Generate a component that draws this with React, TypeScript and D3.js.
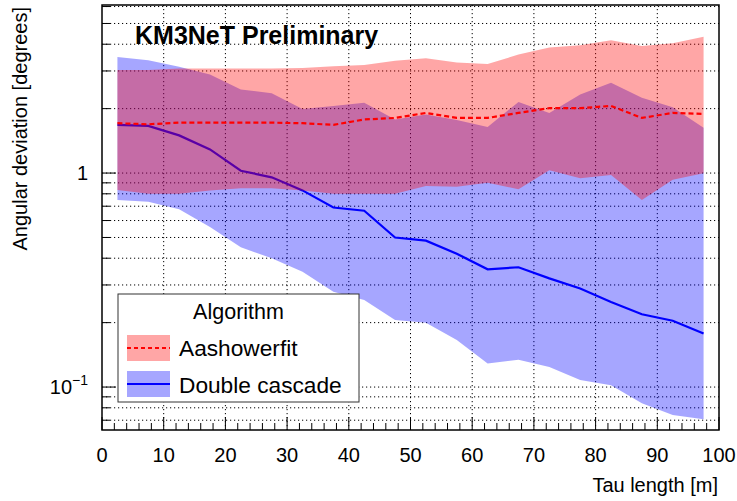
import React from "react";
import * as d3 from "d3";

const tauLength = [2.5, 7.5, 12.5, 17.5, 22.5, 27.5, 32.5, 37.5, 42.5, 47.5, 52.5, 57.5, 62.5, 67.5, 72.5, 77.5, 82.5, 87.5, 92.5, 97.5];

const aashMedian = [1.71, 1.69, 1.72, 1.72, 1.72, 1.72, 1.71, 1.68, 1.78, 1.81, 1.91, 1.81, 1.81, 1.91, 2.01, 2.01, 2.06, 1.81, 1.91, 1.89];
const aashUpper = [3.03, 3.03, 3.08, 3.08, 3.08, 3.08, 3.1, 3.16, 3.2, 3.35, 3.44, 3.29, 3.23, 3.58, 3.86, 3.96, 4.18, 3.92, 4.04, 4.34];
const aashLower = [0.833, 0.8, 0.8, 0.83, 0.85, 0.85, 0.83, 0.8, 0.8, 0.8, 0.87, 0.863, 0.9, 0.84, 1.03, 0.945, 0.98, 0.748, 0.93, 0.997];

const dcMedian = [1.68, 1.66, 1.5, 1.29, 1.025, 0.955, 0.83, 0.69, 0.667, 0.5, 0.483, 0.42, 0.355, 0.363, 0.322, 0.289, 0.25, 0.219, 0.204, 0.178];
const dcUpper = [3.49, 3.37, 3.14, 2.89, 2.46, 2.36, 1.99, 2.06, 2.13, 1.78, 1.88, 1.77, 1.64, 2.15, 1.91, 2.33, 2.64, 2.25, 2.03, 1.63];
const dcLower = [0.748, 0.735, 0.677, 0.56, 0.45, 0.4, 0.346, 0.279, 0.255, 0.206, 0.2, 0.166, 0.129, 0.134, 0.124, 0.108, 0.102, 0.084, 0.074, 0.0707];

const xTickLabels = ["0", "10", "20", "30", "40", "50", "60", "70", "80", "90", "100"];
const legendTitle = "Algorithm";
const seriesNames = ["Aashowerfit", "Double cascade"];

const W = 737, H = 501;
const L = 102, R = 719, T = 5, B = 430;
const FONT = "'Liberation Sans', Arial, Helvetica, sans-serif";

export default function App() {
  const x = d3.scaleLinear().domain([0, 100]).range([L, R]);
  const y = d3.scaleLog().domain([0.063, 6.1]).range([B, T]);

  const idx = tauLength.map((_, i) => i);
  const area = (lo: number[], hi: number[]) =>
    d3.area<number>().x((i) => x(tauLength[i])).y0((i) => y(lo[i])).y1((i) => y(hi[i]))(idx) || "";
  const line = (v: number[]) => d3.line<number>().x((i) => x(tauLength[i])).y((i) => y(v[i]))(idx) || "";

  const yTicks = y.ticks();
  const xMajor = d3.range(0, 101, 10);
  const xMinor = d3.range(0, 101, 2).filter((v) => v % 10 !== 0);
  const isMajorY = (v: number) => Math.abs(Math.log10(v) - Math.round(Math.log10(v))) < 1e-6;

  const grid = { stroke: "#000", strokeWidth: 1, strokeDasharray: "1.2,2.8" };

  return (
    <svg width={W} height={H} style={{ position: "absolute", left: 0, top: 0, background: "#fff" }} fontFamily={FONT}>
      <rect x={0} y={0} width={W} height={H} fill="#fff" />
      {/* grid */}
      {xMajor.filter((v) => v > 0 && v < 100).map((v) => (
        <line key={"gx" + v} x1={x(v)} x2={x(v)} y1={T} y2={B} {...grid} />
      ))}
      {yTicks.map((v) => (
        <line key={"gy" + v} x1={L} x2={R} y1={y(v)} y2={y(v)} {...grid} />
      ))}

      {/* bands */}
      <path d={area(dcLower, dcUpper)} fill="#0000ff" fillOpacity={0.35} />
      <path d={line(dcMedian)} fill="none" stroke="#0000ff" strokeWidth={2.2} />
      <path d={area(aashLower, aashUpper)} fill="#ff0000" fillOpacity={0.35} />
      <path d={line(aashMedian)} fill="none" stroke="#ff0000" strokeWidth={2.2} strokeDasharray="5,3" />

      {/* axes ticks */}
      {xMajor.map((v) => (
        <line key={"xt" + v} x1={x(v)} x2={x(v)} y1={B} y2={B - 13} stroke="#000" strokeWidth={1} />
      ))}
      {xMinor.map((v) => (
        <line key={"xm" + v} x1={x(v)} x2={x(v)} y1={B} y2={B - 7} stroke="#000" strokeWidth={1} />
      ))}
      {yTicks.map((v) => (
        <line key={"yt" + v} x1={L} x2={L + (isMajorY(v) ? 14 : 8)} y1={y(v)} y2={y(v)} stroke="#000" strokeWidth={1} />
      ))}

      {/* frame */}
      <rect x={L} y={T} width={R - L} height={B - T} fill="none" stroke="#000" strokeWidth={1.5} />

      {/* tick labels */}
      {xMajor.map((v, i) => (
        <text key={"xl" + v} x={x(v)} y={462} textAnchor="middle" fontSize={20} fill="#000">
          {xTickLabels[i]}
        </text>
      ))}
      <text x={88} y={y(1) + 7} textAnchor="end" fontSize={20} fill="#000">1</text>
      <text x={88} y={y(0.1) + 7} textAnchor="end" fontSize={20} fill="#000">
        10<tspan dy={-9} fontSize={14}>−1</tspan>
      </text>

      {/* axis titles */}
      <text x={718} y={492} textAnchor="end" fontSize={20} fill="#000">Tau length [m]</text>
      <text transform="translate(27,7) rotate(-90)" textAnchor="end" fontSize={20} fill="#000">
        Angular deviation [degrees]
      </text>

      {/* label */}
      <text x={135} y={44} fontSize={25} fontWeight="bold" fill="#000">KM3NeT Preliminary</text>

      {/* legend */}
      <rect x={118} y={294} width={241} height={108} fill="#fff" stroke="#333" strokeWidth={1} />
      <text x={238.5} y={319} textAnchor="middle" fontSize={21.5} fill="#000">{legendTitle}</text>
      <rect x={127} y={335} width={43} height={26} fill="#ff0000" fillOpacity={0.35} />
      <line x1={127} x2={170} y1={348} y2={348} stroke="#ff0000" strokeWidth={2} strokeDasharray="4,3" />
      <text x={179} y={356} fontSize={22.7} fill="#000">{seriesNames[0]}</text>
      <rect x={127} y={371} width={43} height={26} fill="#0000ff" fillOpacity={0.35} />
      <line x1={127} x2={170} y1={384} y2={384} stroke="#0000ff" strokeWidth={2} />
      <text x={179} y={393} fontSize={22.7} fill="#000">{seriesNames[1]}</text>
    </svg>
  );
}
